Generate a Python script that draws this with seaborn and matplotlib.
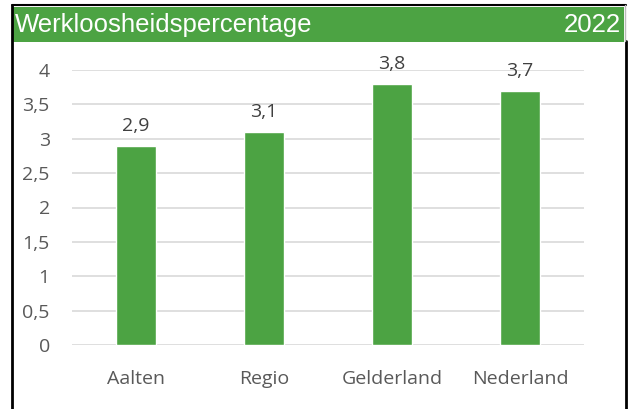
import matplotlib
matplotlib.use("Agg")
import matplotlib.pyplot as plt
import seaborn as sns
from matplotlib.patches import Rectangle
from matplotlib.lines import Line2D

# Data
regions = ["Aalten", "Regio", "Gelderland", "Nederland"]
werkloosheid = [2.9, 3.1, 3.8, 3.7]
yticks = [0, 0.5, 1, 1.5, 2, 2.5, 3, 3.5, 4]
title = "Werkloosheidspercentage"
year = "2022"

green = "#4CA343"
grey_text = "#595959"

sns.set_theme(style="white")
plt.rcParams["font.family"] = ["Open Sans", "DejaVu Sans"]

W, H = 630, 409
fig = plt.figure(figsize=(W / 100, H / 100), dpi=100)
fig.patch.set_facecolor("white")

# plot area in pixel coords: x 72..584, y 70..345
ax = fig.add_axes([72 / W, (H - 345) / H, 512 / W, 275 / H])

sns.barplot(x=regions, y=werkloosheid, color=green, width=0.31,
            saturation=1, ax=ax, zorder=3)

ax.set_ylim(0, 4)
ax.set_xlim(-0.5, 3.5)
ax.set_yticks(yticks)
ax.set_yticklabels([f"{t:g}".replace(".", ",") for t in yticks])
ax.yaxis.grid(True, color="#D9D9D9", linewidth=1.2, zorder=0)
ax.set_axisbelow(True)
for s in ax.spines.values():
    s.set_visible(False)
ax.tick_params(axis="both", length=0, colors=grey_text, labelsize=14)
ax.tick_params(axis="y", pad=16)
ax.tick_params(axis="x", pad=18)
ax.set_xlabel("")
ax.set_ylabel("")

ax.bar_label(ax.containers[0],
             labels=[f"{v:.1f}".replace(".", ",") for v in werkloosheid],
             padding=8, fontsize=14, color="#404040")

# header bar
fig.patches.append(Rectangle((13 / W, (H - 42) / H), 611 / W, 35 / H,
                             transform=fig.transFigure, facecolor=green,
                             edgecolor="none", zorder=1))
fig.text(15 / W, (H - 25) / H, title, color="white", fontsize=18.5,
         family="Liberation Sans", va="center", ha="left")
fig.text(621 / W, (H - 25) / H, year, color="white", fontsize=18.5,
         family="Liberation Sans", va="center", ha="right")

# border lines
fig.lines.append(Line2D([12 / W, 626 / W], [(H - 5) / H, (H - 5) / H],
                        transform=fig.transFigure, color="black", lw=1.5))
fig.lines.append(Line2D([12 / W, 12 / W], [0, (H - 5) / H],
                        transform=fig.transFigure, color="black", lw=2))
fig.lines.append(Line2D([626 / W, 626 / W], [0, (H - 41) / H],
                        transform=fig.transFigure, color="black", lw=2))
fig.lines.append(Line2D([625 / W, 625 / W], [(H - 41) / H, (H - 5) / H],
                        transform=fig.transFigure, color="#BBBBBB", lw=1))

fig.savefig("out.png", dpi=100)
